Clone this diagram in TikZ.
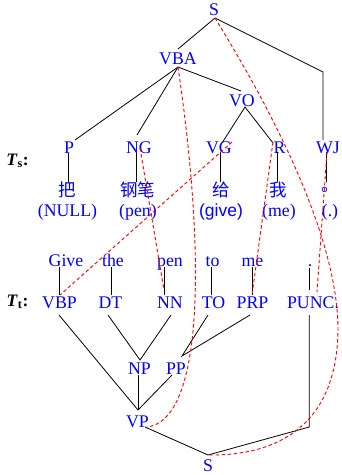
\documentclass[tikz,border=0pt]{standalone}
\usepackage{fontspec}
\setmainfont{Liberation Serif}
\newfontfamily\cjk{Noto Sans CJK SC}
\newfontfamily\sansf{Liberation Sans}
\begin{document}
\begin{tikzpicture}[x=1pt,y=-1pt,
  lbl/.style={text=blue,font=\fontsize{17.8}{20}\selectfont,inner sep=0pt,anchor=base},
  zh/.style={text=blue,font=\cjk\fontsize{17.5}{20}\selectfont,inner sep=0pt,anchor=center},
  tree/.style={draw=black,line width=0.8pt},
  algn/.style={draw=red,line width=0.9pt,dash pattern=on 3.5pt off 2.5pt},
  tag/.style={font=\fontsize{17.5}{20}\selectfont,inner sep=0pt,anchor=base}]
\useasboundingbox (0,0) rectangle (341,475);

% ---------- source tree ----------
\node[lbl] (S1) at (214,15) {S};
\node[lbl] (VBA) at (178,64) {VBA};
\node[lbl] (VO) at (242,106) {VO};
\node[lbl] (P) at (69,153) {P};
\node[lbl] (NG) at (139,153) {NG};
\node[lbl] (VG) at (219,153) {VG};
\node[lbl] (R) at (279.5,153) {R};
\node[lbl] (WJ) at (328,153) {WJ};
\node[zh] (c1) at (67.5,189.5) {把};
\node[zh] (c2) at (137.5,189.5) {钢笔};
\node[zh] (c3) at (221,189.5) {给};
\node[zh] (c4) at (278.5,189.5) {我};
\node[zh] (c5) at (330,189.5) {。};
\node[lbl] (e1) at (67.5,216) {(NULL)};
\node[lbl] (e2) at (138,216) {(pen)};
\node[lbl,font=\sansf\fontsize{17.5}{20}\selectfont] (e3) at (221,216) {(give)};
\node[lbl] (e4) at (279,216) {(me)};
\node[lbl] (e5) at (330,216) {(.)};
\node[tag] (Ts) at (17.5,165) {\textbf{\textit{T}}\textsubscript{\textbf{s}}\textbf{:}};

\coordinate (sA) at (215,18);
\coordinate (VBAt) at (178,49);
\coordinate (WJk) at (323,72);
\coordinate (WJt) at (323,140);
\coordinate (VBAb) at (178,67);
\coordinate (Pt) at (75,140);
\coordinate (NGt) at (137,135);
\coordinate (VOt) at (241,91);
\coordinate (VOb) at (245,107);
\coordinate (VGt) at (222,143);
\coordinate (Rt) at (273,143);
\coordinate (Pb) at (68.3,153);   \coordinate (c1t) at (68.3,182);
\coordinate (NGb) at (136.7,153); \coordinate (c2t) at (136.7,182);
\coordinate (VGb) at (220,152);   \coordinate (c3t) at (220,182);
\coordinate (Rb) at (277.7,152);  \coordinate (c4t) at (277.7,182);
\coordinate (WJb) at (326,152);   \coordinate (c5t) at (326,182);

\draw[tree] (VBAt) -- (sA) -- (WJk) -- (WJt);
\draw[tree] (VBAb) -- (Pt);
\draw[tree] (VBAb) -- (NGt);
\draw[tree] (VBAb) -- (VOt);
\draw[tree] (VGt) -- (VOb) -- (Rt);
\draw[tree] (Pb) -- (c1t);
\draw[tree] (NGb) -- (c2t);
\draw[tree] (VGb) -- (c3t);
\draw[tree] (Rb) -- (c4t);
\draw[tree] (WJb) -- (c5t);

% ---------- target tree ----------
\node[lbl] (w1) at (66,266) {Give};
\node[lbl] (w2) at (113,266) {the};
\node[lbl] (w3) at (170,266) {pen};
\node[lbl] (w4) at (212.5,266) {to};
\node[lbl] (w5) at (252.5,266) {me};
\node[lbl] (w6) at (310,266) {.};
\node[lbl] (VBP) at (59.5,308) {VBP};
\node[lbl] (DT) at (110.5,308) {DT};
\node[lbl] (NN) at (170,308) {NN};
\node[lbl] (TO) at (213.5,308) {TO};
\node[lbl] (PRP) at (252.5,308) {PRP};
\node[lbl] (PUNC) at (313,308) {PUNC.};
\node[lbl] (NP) at (139.5,374) {NP};
\node[lbl] (PP) at (176,374) {PP};
\node[lbl] (VP) at (137.5,427) {VP};
\node[lbl] (S2) at (208,471) {S};
\node[tag] (Tt) at (17.5,306) {\textbf{\textit{T}}\textsubscript{\textbf{t}}\textbf{:}};

\coordinate (w1b) at (59.3,267);  \coordinate (VBPt) at (59.3,295);
\coordinate (w2b) at (111,267);   \coordinate (DTt) at (111,295);
\coordinate (w3b) at (164.3,267); \coordinate (NNt) at (164.3,295);
\coordinate (w4b) at (211.7,267); \coordinate (TOt) at (211.7,295);
\coordinate (w5b) at (252.3,267); \coordinate (PRPt) at (252.3,295);
\coordinate (w6b) at (309.3,268); \coordinate (PUNCt) at (309.3,290);
\coordinate (VBPb) at (59,315);
\coordinate (DTb) at (108,315);
\coordinate (NNb) at (171,315);
\coordinate (TOb) at (208,315);
\coordinate (PRPb) at (250,315);
\coordinate (PUNCb) at (309.3,315);
\coordinate (NPt) at (140,360);
\coordinate (PPt) at (182,356);
\coordinate (NPb) at (138,375);
\coordinate (PPb) at (172,375);
\coordinate (VPt) at (138,410);
\coordinate (VPr) at (145,427);
\coordinate (S2t) at (208,455);
\coordinate (PUNCk) at (309.3,427);

\draw[tree] (w1b) -- (VBPt);
\draw[tree] (w2b) -- (DTt);
\draw[tree] (w3b) -- (NNt);
\draw[tree] (w4b) -- (TOt);
\draw[tree] (w5b) -- (PRPt);
\draw[tree] (w6b) -- (PUNCt);
\draw[tree] (DTb) -- (NPt) -- (NNb);
\draw[tree] (TOb) -- (PPt) -- (PRPb);
\draw[tree] (VBPb) -- (VPt);
\draw[tree] (NPb) -- (VPt);
\draw[tree] (PPb) -- (VPt);
\draw[tree] (VPr) -- (S2t) -- (PUNCk) -- (PUNCb);

% ---------- alignments ----------
\coordinate (VGr) at (232,142);
\coordinate (VBPa) at (60,295);
\coordinate (NGr) at (140,148);
\coordinate (NNa) at (164,290);
\coordinate (VPa) at (147,427);
\coordinate (Ra) at (273,142);
\coordinate (PRPa) at (252,295);
\coordinate (WJa) at (327,152);
\coordinate (PUNCa) at (317,292);
\coordinate (sR) at (338,330);

\draw[algn] (VGr) -- (VBPa);
\draw[algn] (NGr) -- (NNa);
\draw[algn] (VBAb) .. controls (205,250) and (205,420) .. (VPa);
\draw[algn] (Ra) -- (PRPa);
\draw[algn] (WJa) -- (PUNCa);
\draw[algn] (sA) .. controls (290,140) and (338,250) .. (sR) .. controls (337,425) and (278,456) .. (S2t);
\end{tikzpicture}
\end{document}
